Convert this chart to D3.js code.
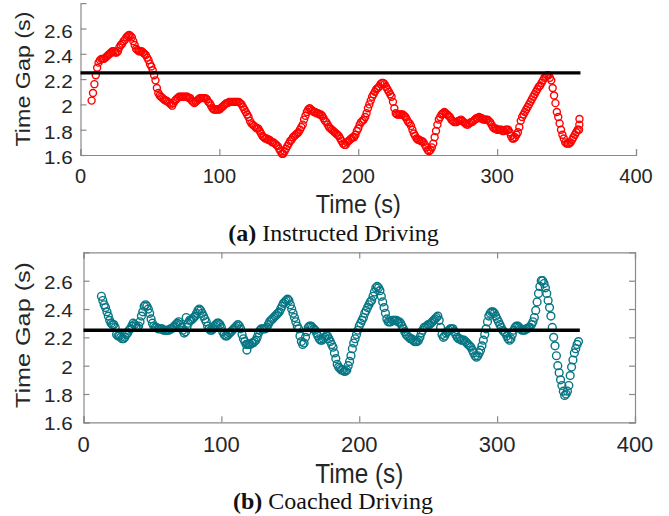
<!DOCTYPE html>
<html><head><meta charset="utf-8">
<script src="https://cdn.jsdelivr.net/npm/d3@7"></script>
<style>body{margin:0;background:#fff}svg{display:block}</style>
</head><body>
<svg id="c" width="669" height="516"></svg>
<script>
// ---- data ----
const xTicks = [0, 100, 200, 300, 400];
const yTicks = [1.6, 1.8, 2, 2.2, 2.4, 2.6];
const yTickLabels = ["1.6", "1.8", "2", "2.2", "2.4", "2.6"];
const refGap = 2.25;            // desired time gap
const refRange = [0, 360];      // time span of reference line
const sampleStep = 1;           // seconds between samples

// (a) Instructed driving, samples every second starting t = 8 s
const instructedStart = 8;
const instructedGap = [
2.03,2.09,2.16,2.23,2.29,2.33,2.35,2.36,2.36,2.36,2.37,2.38,2.39,2.40,2.41,2.42,2.42,2.41,2.41,2.42,
2.45,2.47,2.48,2.50,2.51,2.53,2.54,2.55,2.54,2.53,2.50,2.47,2.44,2.43,2.42,2.42,2.42,2.41,2.40,2.39,
2.37,2.35,2.32,2.30,2.27,2.23,2.19,2.13,2.09,2.07,2.06,2.05,2.04,2.03,2.03,2.02,2.01,2.00,1.99,2.01,
2.03,2.04,2.05,2.06,2.06,2.06,2.06,2.06,2.06,2.06,2.05,2.05,2.03,2.02,2.01,2.02,2.03,2.04,2.05,2.05,
2.05,2.05,2.05,2.04,2.02,2.01,1.99,1.97,1.96,1.96,1.96,1.96,1.96,1.97,1.98,1.99,2.00,2.01,2.01,2.02,
2.02,2.02,2.02,2.02,2.02,2.02,2.02,2.01,2.00,1.98,1.96,1.94,1.92,1.90,1.87,1.85,1.84,1.83,1.82,1.81,
1.81,1.79,1.77,1.75,1.74,1.73,1.73,1.72,1.72,1.71,1.70,1.70,1.69,1.68,1.67,1.65,1.63,1.61,1.61,1.63,
1.65,1.67,1.69,1.71,1.72,1.74,1.75,1.76,1.77,1.78,1.80,1.82,1.84,1.88,1.91,1.94,1.96,1.97,1.96,1.95,
1.94,1.94,1.93,1.93,1.92,1.92,1.91,1.89,1.87,1.86,1.84,1.82,1.81,1.80,1.79,1.78,1.77,1.76,1.75,1.73,
1.71,1.69,1.68,1.68,1.70,1.71,1.72,1.73,1.74,1.74,1.76,1.79,1.81,1.84,1.86,1.87,1.88,1.90,1.93,1.97,
2.00,2.03,2.06,2.08,2.10,2.12,2.13,2.14,2.16,2.17,2.17,2.16,2.14,2.12,2.10,2.08,2.06,2.02,1.97,1.93,
1.92,1.92,1.92,1.92,1.92,1.91,1.90,1.88,1.86,1.85,1.83,1.80,1.77,1.75,1.73,1.72,1.72,1.71,1.71,1.70,
1.68,1.66,1.64,1.63,1.64,1.66,1.69,1.74,1.79,1.84,1.88,1.90,1.92,1.93,1.94,1.93,1.92,1.91,1.90,1.88,
1.87,1.86,1.86,1.86,1.87,1.87,1.88,1.87,1.86,1.85,1.84,1.84,1.85,1.86,1.86,1.87,1.88,1.89,1.89,1.90,
1.89,1.89,1.88,1.88,1.88,1.88,1.87,1.86,1.84,1.82,1.81,1.81,1.80,1.80,1.80,1.80,1.79,1.79,1.80,1.80,
1.80,1.78,1.75,1.73,1.73,1.74,1.76,1.78,1.82,1.87,1.90,1.92,1.94,1.96,1.98,2.00,2.02,2.04,2.06,2.08,
2.10,2.12,2.14,2.15,2.17,2.19,2.21,2.22,2.23,2.23,2.21,2.19,2.13,2.07,2.01,1.94,1.90,1.85,1.80,1.76,
1.73,1.70,1.69,1.69,1.69,1.70,1.72,1.74,1.76,1.78,1.80,1.80
];
const instructedExtraTime = [359.2, 359.3];
const instructedExtraGap  = [1.84, 1.885];

// (b) Coached driving, samples every second starting t = 13 s
const coachedStart = 13;
const coachedGap = [
2.49,2.46,2.43,2.41,2.38,2.35,2.32,2.30,2.29,2.29,2.27,2.22,2.21,2.21,2.20,2.19,2.19,2.20,2.22,2.23,
2.25,2.26,2.28,2.30,2.29,2.28,2.27,2.28,2.31,2.35,2.38,2.42,2.43,2.42,2.40,2.37,2.33,2.30,2.28,2.27,
2.27,2.26,2.26,2.26,2.26,2.25,2.25,2.25,2.25,2.25,2.26,2.26,2.27,2.28,2.29,2.30,2.31,2.29,2.27,2.25,
2.23,2.24,2.27,2.30,2.32,2.32,2.33,2.34,2.35,2.37,2.39,2.40,2.39,2.37,2.35,2.33,2.31,2.28,2.26,2.25,
2.25,2.26,2.28,2.29,2.30,2.30,2.29,2.27,2.24,2.22,2.21,2.21,2.22,2.23,2.24,2.25,2.26,2.27,2.28,2.29,
2.28,2.26,2.22,2.19,2.17,2.15,2.15,2.15,2.15,2.16,2.16,2.17,2.18,2.20,2.23,2.25,2.26,2.26,2.26,2.26,
2.27,2.29,2.31,2.32,2.33,2.34,2.35,2.36,2.37,2.38,2.40,2.42,2.44,2.45,2.46,2.47,2.46,2.43,2.40,2.37,
2.34,2.31,2.28,2.26,2.21,2.17,2.15,2.16,2.20,2.24,2.27,2.28,2.28,2.27,2.26,2.25,2.23,2.21,2.19,2.18,
2.18,2.19,2.20,2.21,2.21,2.19,2.17,2.15,2.13,2.09,2.05,2.01,1.99,1.98,1.97,1.97,1.96,1.96,1.97,2.00,
2.03,2.07,2.12,2.16,2.19,2.22,2.25,2.28,2.30,2.32,2.34,2.37,2.39,2.41,2.43,2.45,2.46,2.49,2.52,2.55,
2.56,2.55,2.53,2.49,2.45,2.41,2.37,2.33,2.31,2.31,2.31,2.32,2.32,2.32,2.32,2.31,2.31,2.30,2.28,2.26,
2.24,2.22,2.21,2.20,2.19,2.19,2.18,2.17,2.17,2.17,2.18,2.20,2.23,2.25,2.27,2.27,2.28,2.29,2.29,2.30,
2.31,2.32,2.33,2.34,2.35,2.32,2.27,2.22,2.20,2.21,2.23,2.24,2.25,2.26,2.26,2.26,2.24,2.22,2.20,2.19,
2.19,2.18,2.18,2.18,2.17,2.16,2.15,2.14,2.13,2.11,2.09,2.07,2.06,2.07,2.09,2.11,2.14,2.18,2.22,2.26,
2.31,2.35,2.37,2.38,2.38,2.37,2.35,2.33,2.31,2.29,2.27,2.25,2.24,2.23,2.21,2.19,2.18,2.19,2.22,2.25,
2.27,2.28,2.28,2.27,2.26,2.25,2.25,2.25,2.26,2.26,2.27,2.27,2.29,2.31,2.34,2.39,2.45,2.51,2.56,2.60,
2.60,2.58,2.55,2.51,2.46,2.41,2.35,2.27,2.20,2.14,2.07,2.00,1.95,1.90,1.86,1.82,1.79,1.80,1.82,1.86,
1.93,1.99,2.04,2.09,2.12,2.15,2.17
];
const coachedExtraTime = [74.5, 118.5];
const coachedExtraGap  = [2.34, 2.11];

// ---- drawing ----
const svg = d3.select("#c");
const axisGray = "#8a8a8a", textCol = "#262626";

function toPoints(start, vals, extraT, extraV) {
  const pts = vals.map((v, i) => ({t: start + i * sampleStep, v}));
  extraT.forEach((t, i) => pts.push({t, v: extraV[i]}));
  return pts;
}

function panel(cfg) {
  const x = d3.scaleLinear().domain([0, 400]).range([cfg.x0, cfg.x1]);
  const y = d3.scaleLinear().domain([1.6, 2.8]).range([cfg.y0, cfg.y1]);
  const g = svg.append("g");

  // axes (ticks inward)
  const bottom = g.append("g").attr("transform", `translate(0,${cfg.y0})`)
    .call(d3.axisBottom(x).tickValues(xTicks).tickSize(-6).tickFormat(""));
  const left = g.append("g").attr("transform", `translate(${cfg.x0},0)`)
    .call(d3.axisLeft(y).tickValues(yTicks).tickSize(-6).tickFormat(""));
  const axes = [bottom, left];
  if (cfg.box) {
    axes.push(g.append("g").attr("transform", `translate(0,${cfg.y1})`)
      .call(d3.axisTop(x).tickValues(xTicks).tickSize(-6).tickFormat("")));
    axes.push(g.append("g").attr("transform", `translate(${cfg.x1},0)`)
      .call(d3.axisRight(y).tickValues(yTicks).tickSize(-6).tickFormat("")));
  }
  axes.forEach(a => {
    a.selectAll("path.domain").attr("stroke", axisGray).attr("stroke-width", 1.2);
    a.selectAll(".tick line").attr("stroke", axisGray).attr("stroke-width", 1.2);
  });

  // tick labels
  g.selectAll(".xl").data(xTicks).join("text")
    .attr("x", d => x(d)).attr("y", cfg.xLabBase)
    .attr("text-anchor", "middle").attr("fill", textCol)
    .style("font-family", "Liberation Sans, Arial, sans-serif")
    .style("font-size", cfg.xLabSize + "px").text(d => d);
  g.selectAll(".yl").data(yTicks).join("text")
    .attr("transform", d => `translate(72.7,${y(d) + cfg.yLabOff}) scale(1.18,1)`)
    .attr("text-anchor", "end").attr("fill", textCol)
    .style("font-family", "Liberation Sans, Arial, sans-serif")
    .style("font-size", "17.5px").text((d, i) => yTickLabels[i]);

  // axis titles
  g.append("text").attr("x", (cfg.x0 + cfg.x1) / 2).attr("y", cfg.xTitleBase)
    .attr("text-anchor", "middle").attr("fill", textCol)
    .attr("textLength", cfg.xTitleLen).attr("lengthAdjust", "spacingAndGlyphs")
    .style("font-family", "Liberation Sans, Arial, sans-serif")
    .style("font-size", cfg.xTitleSize + "px").text("Time (s)");
  g.append("text").attr("transform", `translate(30,${cfg.yTitleMid}) rotate(-90)`)
    .attr("text-anchor", "middle").attr("fill", textCol)
    .attr("textLength", cfg.yTitleLen).attr("lengthAdjust", "spacingAndGlyphs")
    .style("font-family", "Liberation Sans, Arial, sans-serif")
    .style("font-size", "20px").text("Time Gap (s)");

  // markers
  g.append("g").selectAll("circle").data(cfg.points).join("circle")
    .attr("cx", d => x(d.t)).attr("cy", d => y(d.v)).attr("r", cfg.r)
    .attr("fill", "none").attr("stroke", cfg.color).attr("stroke-width", 1.4);

  // reference line
  g.append("line")
    .attr("x1", x(refRange[0])).attr("x2", x(refRange[1]))
    .attr("y1", y(refGap)).attr("y2", y(refGap))
    .attr("stroke", "#000").attr("stroke-width", 3.3);

  // caption
  const cap = g.append("text").attr("x", cfg.capX).attr("y", cfg.capBase)
    .attr("text-anchor", "middle").attr("fill", "#111")
    .style("font-family", "Liberation Serif, 'Times New Roman', serif")
    .style("font-size", "24px");
  cap.append("tspan").style("font-weight", "bold").text(cfg.capTag);
  cap.append("tspan").text(" " + cfg.capText);
}

panel({
  x0: 80.5, x1: 636, y0: 155, y1: 3.2, box: false,
  xLabBase: 183.3, xLabSize: 20, yLabOff: 9,
  xTitleBase: 212.7, xTitleSize: 25, xTitleLen: 85,
  yTitleMid: 79, yTitleLen: 135,
  points: toPoints(instructedStart, instructedGap, instructedExtraTime, instructedExtraGap),
  color: "#ff0000", r: 3.5,
  capX: 333.5, capBase: 240.7, capTag: "(a)", capText: "Instructed Driving"
});

panel({
  x0: 83.5, x1: 635, y0: 422.3, y1: 252.4, box: true,
  xLabBase: 452.3, xLabSize: 22, yLabOff: 8,
  xTitleBase: 482.7, xTitleSize: 27, xTitleLen: 88,
  yTitleMid: 335, yTitleLen: 146,
  points: toPoints(coachedStart, coachedGap, coachedExtraTime, coachedExtraGap),
  color: "#067684", r: 3.9,
  capX: 333, capBase: 509.3, capTag: "(b)", capText: "Coached Driving"
});
</script>
</body></html>
